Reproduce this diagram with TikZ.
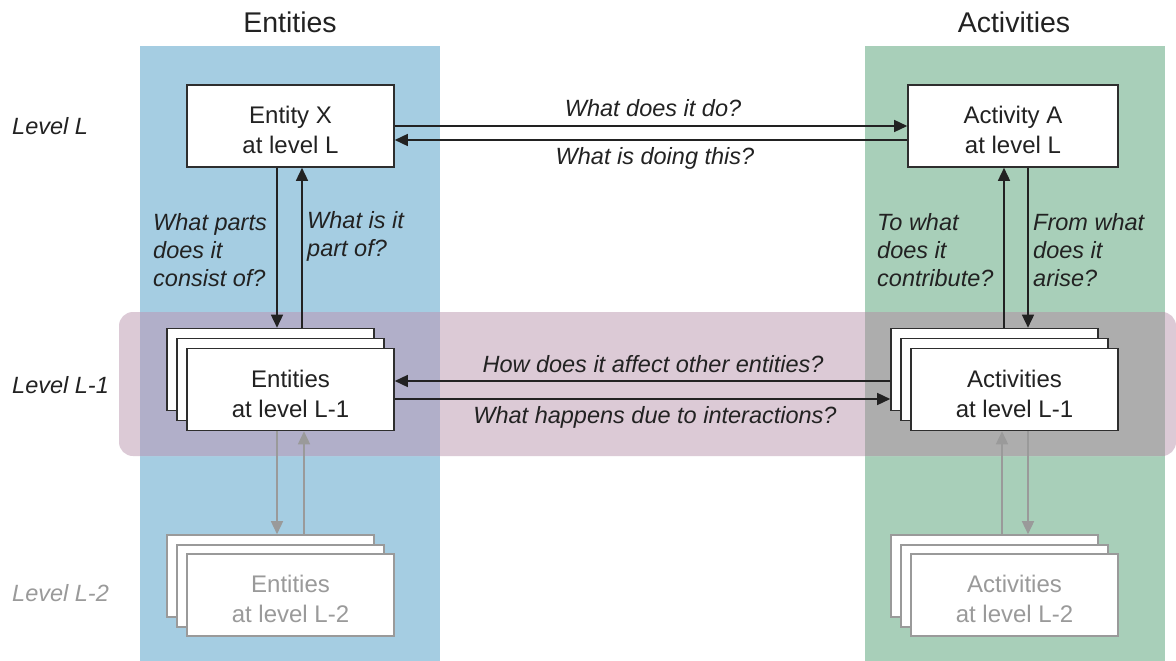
\documentclass[tikz,border=0pt]{standalone}
\usepackage{fontspec}
\setmainfont{Liberation Sans}
\usetikzlibrary{arrows.meta}
\definecolor{bluecol}{HTML}{A5CDE2}
\definecolor{greencol}{HTML}{A8CFB9}
\definecolor{pinkband}{HTML}{DCCAD6}
\definecolor{bluepink}{HTML}{B1AFC9}
\definecolor{greenpink}{HTML}{ADADAD}
\definecolor{inkdark}{HTML}{222222}
\definecolor{boxline}{HTML}{2E2E2E}
\definecolor{faint}{HTML}{9A9A9A}
\newcommand\boxtxt[2]{\raisebox{-13pt}[0pt][0pt]{\begin{tabular}{@{}c@{}}#1\\#2\end{tabular}}}
\begin{document}
\begin{tikzpicture}[x=1pt,y=-1pt,
  box/.style={draw=boxline, line width=1.6pt, fill=white, minimum width=207pt, minimum height=82pt,
    inner sep=0pt, text=inkdark, font=\fontsize{24pt}{30pt}\selectfont},
  gbox/.style={box, draw=faint, text=faint},
  arr/.style={draw=inkdark, line width=1.5pt, -{Triangle[length=13pt,width=12pt]}},
  garr/.style={arr, draw=faint},
  qlab/.style={font=\fontsize{23.5pt}{28pt}\selectfont\itshape, text=inkdark, inner sep=0pt},
  vlab/.style={qlab, align=left, anchor=west},
  title/.style={font=\fontsize{28.5pt}{34pt}\selectfont, text=inkdark, inner sep=0pt},
]
\useasboundingbox (0,0) rectangle (1176,661);
\fill[white] (0,0) rectangle (1176,661);
% backgrounds
\fill[bluecol] (140,46) rectangle (440,661);
\fill[greencol] (865,46) rectangle (1165,661);
\fill[pinkband, rounded corners=14pt] (119,312) rectangle (1176,456);
\fill[bluepink] (140,312) rectangle (440,456);
\fill[greenpink] (865,312) rectangle (1165,456);
% titles
\node[title] (tEnt) at (290,22) {Entities};
\node[title] (tAct) at (1014,22) {Activities};
% level labels
\node[qlab, anchor=west] (lvL) at (12,126) {Level L};
\node[qlab, anchor=west] (lvL1) at (12,385) {Level L-1};
\node[qlab, anchor=west, text=faint] (lvL2) at (12,593) {Level L-2};
% level L boxes
\node[box] (ex) at (290.5,126) {\boxtxt{Entity X}{at level L}};
\node[box, minimum width=210pt] (aa) at (1013,126) {\boxtxt{Activity A}{at level L}};
% level L-1 boxes
\node[box] (e1b) at (270.5,369.5) {};
\node[box] (e1m) at (280.5,379.5) {};
\node[box] (e1) at (290.5,389.5) {\boxtxt{Entities}{at level L-1}};
\node[box] (a1b) at (994.5,369.5) {};
\node[box] (a1m) at (1004.5,379.5) {};
\node[box] (a1) at (1014.5,389.5) {\boxtxt{Activities}{at level L-1}};
% level L-2 boxes
\node[gbox] (e2b) at (270.5,576) {};
\node[gbox] (e2m) at (280.5,586) {};
\node[gbox] (e2) at (290.5,595) {\boxtxt{Entities}{at level L-2}};
\node[gbox] (a2b) at (994.5,576) {};
\node[gbox] (a2m) at (1004.5,586) {};
\node[gbox] (a2) at (1014.5,595) {\boxtxt{Activities}{at level L-2}};
% horizontal arrows level L
\draw[arr] (ex.east) -- (ex.east -| aa.west);
\draw[arr] ([yshift=-14pt]aa.west) -- ([yshift=-14pt]aa.west -| ex.east);
% horizontal arrows level L-1
\draw[arr] ([yshift=8.5pt]e1.east -| a1b.west) -- ([yshift=8.5pt]e1.east);
\draw[arr] ([yshift=-9.5pt]e1.east) -- ([yshift=-9.5pt]e1.east -| a1b.west);
% vertical arrows L <-> L-1
\draw[arr] ([xshift=-13.5pt]ex.south) -- ([xshift=-13.5pt]ex.south |- e1b.north);
\draw[arr] ([xshift=11.5pt]ex.south |- e1b.north) -- ([xshift=11.5pt]ex.south);
\draw[arr] ([xshift=-9pt]aa.south |- a1b.north) -- ([xshift=-9pt]aa.south);
\draw[arr] ([xshift=15pt]aa.south) -- ([xshift=15pt]aa.south |- a1b.north);
% vertical arrows L-1 <-> L-2
\draw[garr] ([xshift=-13.5pt]e1.south) -- ([xshift=-13.5pt]e1.south |- e2b.north);
\draw[garr] ([xshift=13.5pt]e1.south |- e2b.north) -- ([xshift=13.5pt]e1.south);
\draw[garr] ([xshift=-12.5pt]a1.south |- a2b.north) -- ([xshift=-12.5pt]a1.south);
\draw[garr] ([xshift=13.5pt]a1.south) -- ([xshift=13.5pt]a1.south |- a2b.north);
% question labels
\node[qlab] (q1) at (653,108) {What does it do?};
\node[qlab] (q2) at (655,158) {What is doing this?};
\node[qlab] (q3) at (653,364) {How does it affect other entities?};
\node[qlab] (q4) at (655,417) {What happens due to interactions?};
\node[vlab] (q5) at (153,250) {What parts\\does it\\consist of?};
\node[vlab] (q6) at (307,236) {What is it\\part of?};
\node[vlab] (q7) at (877,250) {To what\\does it\\contribute?};
\node[vlab] (q8) at (1033,250) {From what\\does it\\arise?};
\end{tikzpicture}
\end{document}
